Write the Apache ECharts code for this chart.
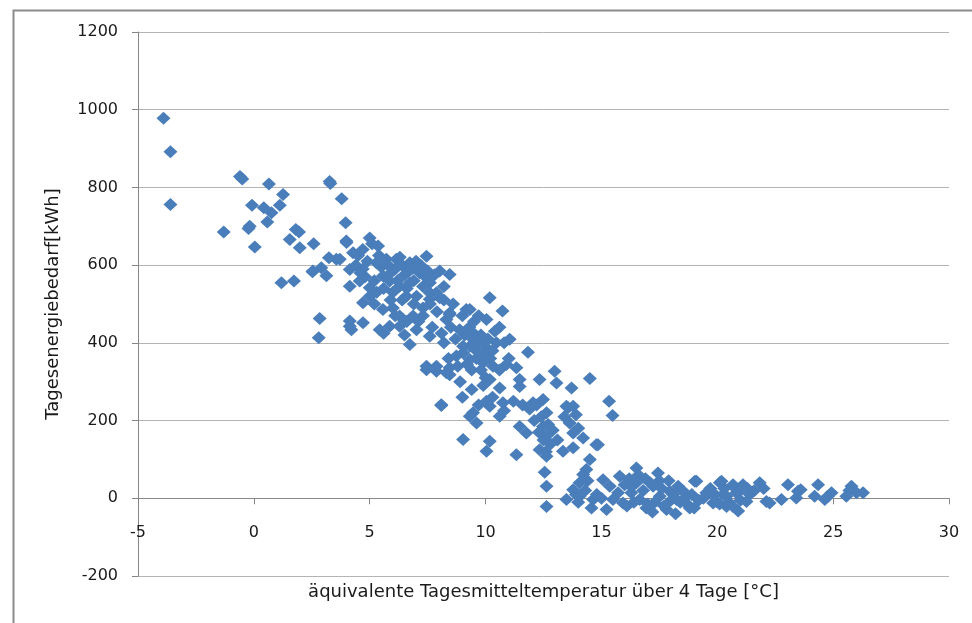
<!DOCTYPE html>
<html>
<head>
<meta charset="utf-8">
<script src="https://cdn.jsdelivr.net/npm/echarts@6/dist/echarts.min.js"></script>
<style>html,body{margin:0;padding:0;background:#fff;}#c{width:972px;height:623px;}</style>
</head>
<body>
<div id="c"></div>
<script>
// Temperature [°C] and daily energy demand [kWh]
var temps = [
-3.9,-3.6,-3.6,-1.3,-0.6,-0.5,0.65,1.26,-0.08,0.43,0.76,1.12,0.58,-0.18,-0.23,0.04,1.81,1.95,1.55,1.98,2.58,3.27,3.3,3.79,3.96,3.99,3.24,3.56,2.53,3.13,2.91,1.19,1.73,2.84,2.8,4.14,4.21,4.0,
5.0,5.36,4.28,3.71,2.55,4.14,4.14,4.57,4.71,5.0,5.29,5.72,6.15,6.73,7.45,7.16,8.02,8.45,5.57,5.86,6.29,6.73,7.02,6.58,7.59,8.02,5.57,6.0,6.29,5.43,5.86,6.29,6.87,7.02,6.73,7.59,8.31,8.45,9.17,8.88,9.46,9.32,9.03,4.14,4.71,7.45,7.88,8.31,8.45,8.09,9.46,
4.4,4.6,4.8,4.9,5.2,5.3,5.5,5.6,5.8,5.9,6.1,6.2,6.4,6.5,6.6,6.8,6.9,7.0,7.2,7.3,7.4,7.6,7.8,4.5,4.7,5.1,5.4,6.0,6.4,6.9,7.3,7.6,7.9,8.2,8.6,5.0,5.2,5.9,6.1,6.6,7.1,7.7,8.1,8.5,8.7,6.5,5.6,4.7,6.3,6.7,7.5,8.2,7.3,
10.18,10.73,10.04,9.32,8.45,7.59,7.88,11.04,11.83,10.47,9.46,9.03,8.74,9.32,9.89,10.32,10.9,11.33,11.47,11.47,10.61,10.18,7.45,7.88,8.45,12.33,12.98,13.06,13.71,14.5,12.05,12.48,12.63,13.49,13.78,10.04,10.18,10.75,10.61,9.32,9.61,8.09,11.47,11.76,12.48,12.63,13.63,13.78,14.21,9.03,10.18,10.04,11.33,12.33,12.63,13.34,13.78,14.78,14.5,14.35,12.55,
9.1,9.3,9.5,9.6,9.7,9.8,9.9,10.0,10.1,10.2,10.3,9.2,9.4,9.6,9.8,10.0,9.0,9.7,10.4,10.6,10.8,11.0,10.6,9.9,10.3,10.8,11.2,11.6,11.9,12.2,12.1,12.4,12.7,12.9,12.8,12.5,12.3,13.1,13.4,13.9,14.0,12.6,8.2,8.4,8.8,8.9,9.4,9.0,9.7,
15.33,15.48,13.56,14.85,14.21,14.06,13.78,13.49,14.06,14.64,14.57,15.22,15.07,15.36,15.79,15.72,15.93,12.63,12.63,15.5,16.0,14.3,14.4,14.0,13.9,14.8,15.0,
16.51,16.51,16.29,16.65,16.94,17.44,17.23,17.52,17.81,17.95,18.31,18.24,18.81,19.03,18.67,19.53,20.11,20.4,19.96,20.68,20.68,
16.2,16.4,16.8,16.9,17.0,17.1,17.3,17.6,17.7,17.9,18.0,18.1,18.4,18.5,18.7,18.9,19.2,19.4,19.7,19.9,20.1,20.3,20.5,20.9,21.0,16.6,17.5,18.2,16.3,19.0,17.2,16.1,
20.18,20.68,21.11,21.83,19.68,20.25,20.82,21.4,19.82,20.4,20.9,21.26,22.12,22.26,22.77,23.05,23.48,23.41,24.35,24.2,24.64,24.93,25.57,25.79,26.01,26.29,19.1,21.6,22.0,23.6,24.77,25.7,21.3
];
var energy = [
978,892,756,685,828,822,809,782,754,748,735,754,711,700,694,647,692,685,666,645,655,815,810,771,709,662,619,615,583,573,593,555,559,463,413,456,434,658,
670,649,632,615,585,589,546,559,503,542,606,615,615,606,623,580,585,576,572,559,546,555,520,520,529,516,486,490,469,434,443,443,469,434,396,417,460,477,486,434,426,391,374,443,452,331,340,323,336,241,220,
600,580,570,610,560,530,595,540,600,580,590,560,600,575,540,590,560,610,600,545,570,555,575,625,640,655,625,530,510,500,490,500,480,545,500,520,500,510,470,455,455,440,425,440,410,420,425,590,620,585,585,510,470,
516,482,460,486,473,512,529,409,376,400,409,391,366,357,349,340,344,336,306,288,284,306,340,327,318,306,327,297,284,308,246,254,220,237,237,250,237,246,211,211,194,239,185,168,185,160,194,168,155,151,147,121,112,125,108,121,130,138,100,74,67,
420,440,455,380,400,420,370,390,410,360,380,345,330,360,330,310,470,470,430,440,400,360,330,290,260,225,250,240,230,240,200,210,190,175,140,150,170,150,210,215,180,120,400,360,340,300,280,260,240,
250,213,233,138,61,40,22,-3,5,-3,-25,-29,48,31,57,14,-12,-21,31,-3,35,20,45,-10,10,10,0,
78,40,14,-3,-25,65,31,5,-29,18,31,-3,-25,44,5,14,40,5,-8,-21,31,
50,-10,20,50,-15,40,-10,25,-20,45,-5,10,-10,20,-15,10,-5,0,25,10,-15,25,-10,15,-5,60,45,-40,30,-25,-35,-20,
44,35,35,40,14,10,14,10,-12,-21,-33,-8,-8,-12,-3,35,18,1,35,5,-3,14,5,31,14,14,44,20,25,22,5,20,25
];
var xTicks = {min: -5, max: 30, interval: 5};
var yTicks = {min: -200, max: 1200, interval: 200};
var xName = 'äquivalente Tagesmitteltemperatur über 4 Tage [°C]';
var yName = 'Tagesenergiebedarf[kWh]';

var points = [];
for (var i = 0; i < Math.min(temps.length, energy.length); i++) points.push([temps[i], energy[i]]);

var FONT = 'DejaVu Sans';
var plain = function (v) { return String(v); };
var chart = echarts.init(document.getElementById('c'), null, {renderer: 'canvas'});
chart.setOption({
  animation: false,
  backgroundColor: '#fff',
  graphic: [{
    type: 'rect', left: 11, top: 8, shape: {width: 1100, height: 800},
    style: {fill: 'none', stroke: '#8c8c8c', lineWidth: 2}, silent: true, z: -1
  }],
  grid: {left: 138, right: 23, top: 32, bottom: 47, containLabel: false, outerBoundsMode: 'none'},
  xAxis: {
    type: 'value', min: xTicks.min, max: xTicks.max, interval: xTicks.interval,
    name: xName, nameLocation: 'middle', nameGap: 7, nameMoveOverlap: false,
    nameTextStyle: {fontFamily: FONT, fontSize: 18, color: '#1a1a1a'},
    axisLine: {onZero: true, lineStyle: {color: '#878787', width: 1}},
    axisTick: {show: true, inside: false, length: 6, lineStyle: {color: '#878787'}},
    axisLabel: {margin: -51, fontFamily: FONT, fontSize: 16, color: '#1a1a1a', formatter: plain},
    splitLine: {show: false}
  },
  yAxis: {
    type: 'value', min: yTicks.min, max: yTicks.max, interval: yTicks.interval,
    name: yName, nameLocation: 'middle', nameGap: 76, nameRotate: 90,
    nameTextStyle: {fontFamily: FONT, fontSize: 18, color: '#1a1a1a'},
    axisLine: {show: true, onZero: false, lineStyle: {color: '#878787', width: 1}},
    axisTick: {show: true, inside: false, length: 6, lineStyle: {color: '#878787'}},
    axisLabel: {margin: 20, fontFamily: FONT, fontSize: 16, color: '#1a1a1a', formatter: plain},
    splitLine: {show: true, lineStyle: {color: '#b4b4b4', width: 1}}
  },
  series: [{
    type: 'scatter', symbol: 'diamond', symbolSize: [14, 13],
    itemStyle: {color: '#4A7EBB', opacity: 1},
    data: points
  }]
});
</script>
</body>
</html>
